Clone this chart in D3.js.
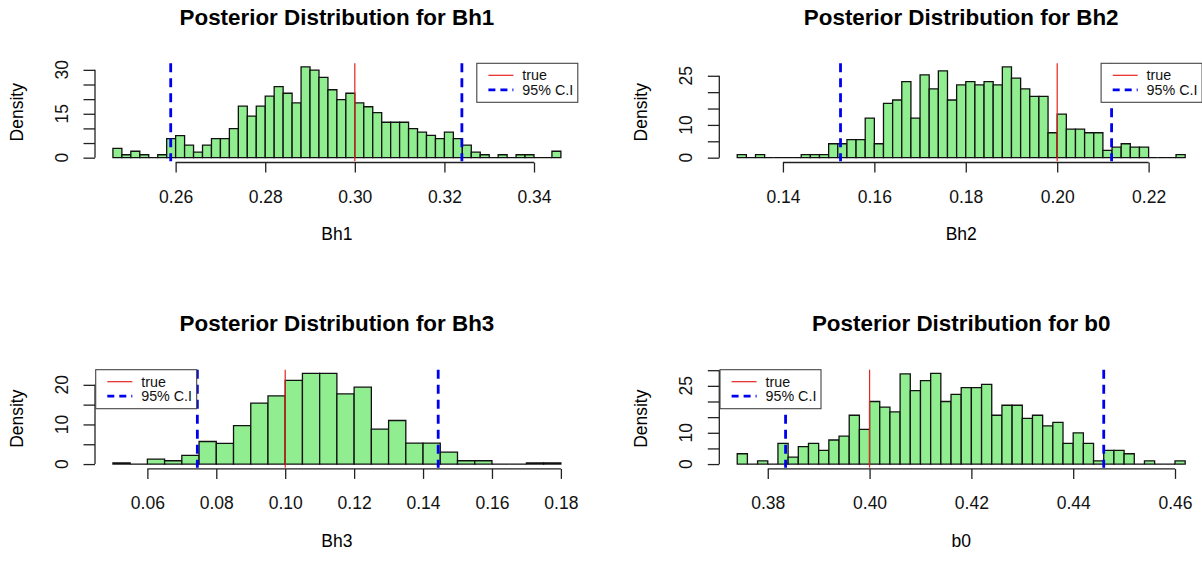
<!DOCTYPE html>
<html>
<head>
<meta charset="utf-8">
<script src="https://cdn.jsdelivr.net/npm/d3@7"></script>
<style>
  body { margin: 0; background: #fff; }
  text { font-family: "Liberation Sans", Arial, Helvetica, sans-serif; }
</style>
</head>
<body>
<svg id="chart"></svg>
<script>

// histogram densities (R hist, regular breaks)
var bh1Start = 0.246, bh1Step = 0.002;
var bh1Density = [3.2, 1.0, 2.2, 1.0, 0, 1.0, 6.5, 7.5, 4.3, 1.9, 4.3, 6.5, 6.5, 9.9, 17.6, 14.2, 17.6,
  21.0, 24.3, 22.0, 18.7, 31.0, 29.9, 27.4, 23.2, 19.8, 22.0, 18.7, 17.4, 15.4, 12.1, 12.1, 12.1,
  9.9, 8.7, 7.6, 6.5, 8.7, 6.5, 4.3, 1.9, 1.0, 0, 1.0, 0, 1.0, 1.0, 0, 0, 2.2];
var bh1XTicks = [0.26, 0.28, 0.30, 0.32, 0.34];
var bh1YTicks = [0, 5, 10, 15, 20, 25, 30];
var bh1YLabels = [0, 15, 30];
var bh1CI = [0.2589, 0.3239];
var bh1True = 0.30;

var bh2Start = 0.130, bh2Step = 0.002;
var bh2Density = [0.9, 0, 0.9, 0, 0, 0, 0, 0.9, 0.9, 0.9, 4.25, 4.25, 5.5, 5.5, 12.1, 4.25, 16.6,
  17.6, 23.2, 12.1, 25.3, 21.0, 26.5, 17.6, 22.2, 23.2, 22.2, 23.2, 22.2, 27.7, 24.3, 21.0, 18.7,
  18.7, 7.6, 13.3, 8.7, 8.7, 7.6, 7.6, 2.2, 3.2, 4.25, 3.2, 3.2, 0, 0, 0, 0.9];
var bh2XTicks = [0.14, 0.16, 0.18, 0.20, 0.22];
var bh2YTicks = [0, 5, 10, 15, 20, 25];
var bh2YLabels = [0, 10, 25];
var bh2CI = [0.1526, 0.2119];
var bh2True = 0.20;

var bh3Start = 0.050, bh3Step = 0.005;
var bh3Density = [0.3, 0, 1.26, 0.84, 2.2, 5.7, 5.2, 9.7, 15.4, 17.2, 21.1, 22.9, 22.9, 17.7, 19.4,
  8.8, 11.0, 5.3, 5.3, 3.0, 0.84, 0.84, 0, 0, 0.3, 0.3];
var bh3XTicks = [0.06, 0.08, 0.10, 0.12, 0.14, 0.16, 0.18];
var bh3YTicks = [0, 5, 10, 15, 20];
var bh3YLabels = [0, 10, 20];
var bh3CI = [0.0745, 0.1444];
var bh3True = 0.10;

var b0Start = 0.374, b0Step = 0.002;
var b0Density = [3.3, 0, 1.05, 0, 6.6, 2.2, 5.6, 6.6, 4.4, 7.7, 8.9, 15.6, 11.1, 20.0, 18.2, 16.7,
  28.8, 23.5, 26.7, 29.0, 20.0, 22.3, 24.4, 24.4, 25.5, 15.6, 18.8, 18.8, 14.6, 15.6, 12.2, 13.3,
  6.6, 10.0, 6.6, 1.05, 4.4, 4.4, 3.3, 0, 1.05, 0, 0, 1.05];
var b0XTicks = [0.38, 0.40, 0.42, 0.44, 0.46];
var b0YTicks = [0, 5, 10, 15, 20, 25, 30];
var b0YLabels = [0, 10, 25];
var b0CI = [0.3835, 0.446];
var b0True = 0.40;

var legendLabels = ["true", "95% C.I"];

var panels = [
  {name: "Bh1", start: bh1Start, step: bh1Step, density: bh1Density, xTicks: bh1XTicks,
   yTicks: bh1YTicks, yLabels: bh1YLabels, ci: bh1CI, truth: bh1True, legend: "right"},
  {name: "Bh2", start: bh2Start, step: bh2Step, density: bh2Density, xTicks: bh2XTicks,
   yTicks: bh2YTicks, yLabels: bh2YLabels, ci: bh2CI, truth: bh2True, legend: "right"},
  {name: "Bh3", start: bh3Start, step: bh3Step, density: bh3Density, xTicks: bh3XTicks,
   yTicks: bh3YTicks, yLabels: bh3YLabels, ci: bh3CI, truth: bh3True, legend: "left"},
  {name: "b0", start: b0Start, step: b0Step, density: b0Density, xTicks: b0XTicks,
   yTicks: b0YTicks, yLabels: b0YLabels, ci: b0CI, truth: b0True, legend: "left"}
];

var svg = d3.select("#chart")
    .attr("width", 1202)
    .attr("height", 565);

svg.append("rect").attr("width", 1202).attr("height", 565).attr("fill", "#fff");

var plotW = 483.8, plotH = 98;

panels.forEach(function(p, i) {
  drawPanel(p, i % 2 ? 719.3 : 95, i < 2 ? 63.3 : 369.7);
});

function drawPanel(p, left, top) {
  var bins = p.density.map(function(d, k) {
    return {x0: p.start + k * p.step, x1: p.start + (k + 1) * p.step, y: d};
  });
  var lo = bins[0].x0, hi = bins[bins.length - 1].x1, pad = (hi - lo) * 0.04;
  var ymax = d3.max(p.density);

  var x = d3.scaleLinear().domain([lo - pad, hi + pad]).range([left, left + plotW]);
  var y = d3.scaleLinear().domain([-0.04 * ymax, 1.04 * ymax]).range([top + plotH, top]);

  var g = svg.append("g");

  // bars (path so empty bins still leave a line on the baseline)
  g.selectAll("path.bar")
    .data(bins)
    .enter().append("path")
      .attr("class", "bar")
      .attr("d", function(d) {
        return "M" + x(d.x0) + "," + y(0) + "V" + y(d.y) + "H" + x(d.x1) + "V" + y(0) + "Z";
      })
      .attr("fill", "#90ee90")
      .attr("stroke", "#111")
      .attr("stroke-width", 1.3);

  // x axis
  var gx = g.append("g")
      .attr("transform", "translate(0," + (top + plotH + 1.2) + ")")
      .call(d3.axisBottom(x).tickValues(p.xTicks).tickSize(10).tickSizeOuter(0)
        .tickFormat(d3.format(".2f")))
      .attr("font-family", null)
      .attr("font-size", null);
  gx.select(".domain").attr("d", "M" + x(p.xTicks[0]) + ",0H" + x(p.xTicks[p.xTicks.length - 1]));
  gx.selectAll("line, .domain").attr("stroke", "#222").attr("stroke-width", 1.3);
  gx.selectAll("text")
      .attr("y", 40.5)
      .attr("dy", null)
      .attr("fill", "#111")
      .style("font-size", "17.5px");

  // y axis
  var gy = g.append("g")
      .attr("transform", "translate(" + left + ",0)")
      .call(d3.axisLeft(y).tickValues(p.yTicks).tickSize(11.5).tickSizeOuter(0).tickFormat(""));
  gy.select(".domain").attr("d", "M0," + y(0) + "V" + y(p.yTicks[p.yTicks.length - 1]));
  gy.selectAll("line, .domain").attr("stroke", "#222").attr("stroke-width", 1.3);

  g.selectAll("text.ylab")
    .data(p.yLabels)
    .enter().append("text")
      .attr("class", "ylab")
      .attr("transform", function(d) { return "translate(" + (left - 27) + "," + y(d) + ") rotate(-90)"; })
      .attr("text-anchor", "middle")
      .attr("fill", "#111")
      .style("font-size", "17.5px")
      .text(function(d) { return d; });

  // reference lines
  g.append("line")
      .attr("x1", x(p.truth)).attr("x2", x(p.truth))
      .attr("y1", top).attr("y2", top + plotH)
      .attr("stroke", "#e8231f")
      .attr("stroke-width", 1.2);

  g.selectAll("line.ci")
    .data(p.ci)
    .enter().append("line")
      .attr("class", "ci")
      .attr("x1", function(d) { return x(d); })
      .attr("x2", function(d) { return x(d); })
      .attr("y1", top).attr("y2", top + plotH)
      .attr("stroke", "#0000ee")
      .attr("stroke-width", 2.8)
      .attr("stroke-dasharray", "9,6");

  // titles
  g.append("text")
      .attr("x", left + plotW / 2)
      .attr("y", top - 38.3)
      .attr("text-anchor", "middle")
      .style("font-size", "22.4px")
      .style("font-weight", "bold")
      .text("Posterior Distribution for " + p.name);

  g.append("text")
      .attr("x", left + plotW / 2)
      .attr("y", top + plotH + 79)
      .attr("text-anchor", "middle")
      .style("font-size", "17.5px")
      .text(p.name);

  g.append("text")
      .attr("transform", "translate(" + (left - 72) + "," + (top + plotH / 2) + ") rotate(-90)")
      .attr("text-anchor", "middle")
      .style("font-size", "17.5px")
      .text("Density");

  // legend
  var lw = 101, lh = 39;
  var lx = p.legend == "right" ? left + plotW - lw - 1 : left + 0.7;
  var lg = g.append("g").attr("transform", "translate(" + lx + "," + top + ")");
  lg.append("rect")
      .attr("width", lw).attr("height", lh)
      .attr("fill", "#fff")
      .attr("stroke", "#444")
      .attr("stroke-width", 1.1);
  var rows = lg.selectAll("g.row")
    .data(legendLabels)
    .enter().append("g")
      .attr("class", "row")
      .attr("transform", function(d, k) { return "translate(0," + (12 + k * 14.5) + ")"; });
  rows.append("line")
      .attr("x1", 11.6).attr("x2", 36.6)
      .attr("stroke", function(d, k) { return k ? "#0000ee" : "#e8231f"; })
      .attr("stroke-width", function(d, k) { return k ? 2.8 : 1.2; })
      .attr("stroke-dasharray", function(d, k) { return k ? "7,5" : null; });
  rows.append("text")
      .attr("x", 45.5)
      .attr("dy", "0.35em")
      .style("font-size", "14.3px")
      .attr("fill", "#111")
      .text(function(d) { return d; });
}
</script>
</body>
</html>
